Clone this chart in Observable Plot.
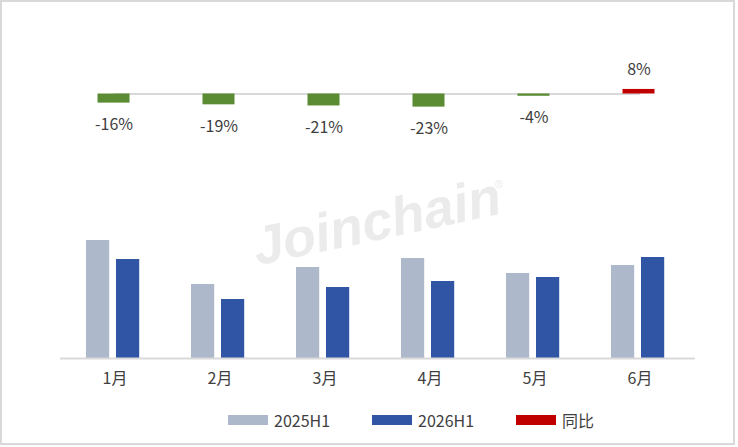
<!DOCTYPE html>
<html><head><meta charset="utf-8">
<script src="https://cdn.jsdelivr.net/npm/d3@7"></script>
<script src="https://cdn.jsdelivr.net/npm/@observablehq/plot@0.6"></script>
<style>
body{margin:0;background:#fff;font-family:'Noto Sans CJK SC','Noto Sans',sans-serif;color:#404040}
#frame{position:absolute;left:0;top:0;width:735px;height:445px;box-sizing:border-box;border:2px solid #d9d9d9;pointer-events:none}
#chart{position:absolute;left:0;top:0;width:738px}
#chart svg{display:block}
#legend{position:relative;height:40px}
.item{position:absolute;top:0;height:40px;display:flex;align-items:center;font-size:16px;white-space:nowrap}
.sw{width:40px;height:10px;margin-right:6px}
</style></head><body>
<div id="chart"><div id="top"></div><div id="bottom"></div><div id="legend"></div></div>
<div id="frame"></div>
<script>
const months = ["1月","2月","3月","4月","5月","6月"];
const v2025 = [118, 74, 91, 100, 85, 93];
const v2026 = [99, 59, 71, 77, 81, 101];
const yoy = [-16, -19, -21, -23, -4, 8];
const seriesNames = ["2025H1", "2026H1", "同比"];
const seriesColors = ["#adb9ca", "#2f55a4", "#c00000"];
const negColor = "#5b8c33";
const watermark = "Joinchain";

const font = "'Noto Sans CJK SC','Noto Sans',sans-serif";
const yoyData = months.map((m, i) => ({month: m, value: yoy[i]}));
const barData = months.map((m, i) => ({month: m, a: v2025[i], b: v2026[i]}));

const topPlot = Plot.plot({
  width: 738, height: 140,
  marginLeft: 60.5, marginRight: 47, marginTop: 70.7, marginBottom: 23.7,
  style: {fontFamily: font, fontSize: "16px", color: "#404040", background: "transparent", overflow: "visible"},
  x: {domain: months, padding: 0, axis: null},
  y: {domain: [-40, 40], axis: null},
  marks: [
    Plot.line([{month: months[0], v: 0}, {month: months[months.length - 1], v: 0}], {x: "month", y: "v", stroke: "#d9d9d9", strokeWidth: 2}),
    Plot.barY(yoyData.filter(d => d.value < 0), {x: "month", y: "value", fill: negColor, insetLeft: 36.5, insetRight: 36.5}),
    Plot.barY(yoyData.filter(d => d.value >= 0), {x: "month", y: "value", fill: seriesColors[2], insetLeft: 36.5, insetRight: 36.5}),
    Plot.text(yoyData.filter(d => d.value < 0), {x: "month", y: "value", text: d => d.value + "%", dy: 22, fill: "#404040"}),
    Plot.text(yoyData.filter(d => d.value >= 0), {x: "month", y: "value", text: d => d.value + "%", dy: -20, fill: "#404040"})
  ]
});
document.getElementById("top").appendChild(topPlot);

const bottomPlot = Plot.plot({
  width: 738, height: 260,
  marginLeft: 60, marginRight: 43.2, marginTop: 88, marginBottom: 42,
  style: {fontFamily: font, fontSize: "16px", color: "#404040", background: "transparent", overflow: "visible"},
  x: {domain: months, padding: 0, label: null, tickSize: 0, tickPadding: 14},
  y: {domain: [0, 130], axis: null},
  marks: [
    Plot.text([watermark], {frameAnchor: "middle", text: d => d, dy: -71, dx: -1, rotate: -12, fontSize: 54, fontWeight: "bold", fontStyle: "italic", fill: "#ebebeb", fontFamily: "'Liberation Sans', Arial, sans-serif"}),
    Plot.text(["®"], {frameAnchor: "middle", text: d => d, dx: 121, dy: -109, fontSize: 11, fill: "#ebebeb", fontFamily: "'Liberation Sans', Arial, sans-serif"}),
    Plot.barY(barData, {x: "month", y: "a", fill: seriesColors[0], insetLeft: 24, insetRight: 57.8}),
    Plot.barY(barData, {x: "month", y: "b", fill: seriesColors[1], insetLeft: 54, insetRight: 27.8}),
    Plot.ruleY([0], {stroke: "#d9d9d9", strokeWidth: 2})
  ]
});
document.getElementById("bottom").appendChild(bottomPlot);

const legend = document.getElementById("legend");
const legendLeft = [228, 372, 516];
seriesNames.forEach((name, i) => {
  const item = document.createElement("div");
  item.className = "item";
  item.style.left = legendLeft[i] + "px";
  const sw = document.createElement("span");
  sw.className = "sw";
  sw.style.background = seriesColors[i];
  const t = document.createElement("span");
  t.textContent = name;
  item.appendChild(sw);
  item.appendChild(t);
  legend.appendChild(item);
});
</script>
</body></html>
